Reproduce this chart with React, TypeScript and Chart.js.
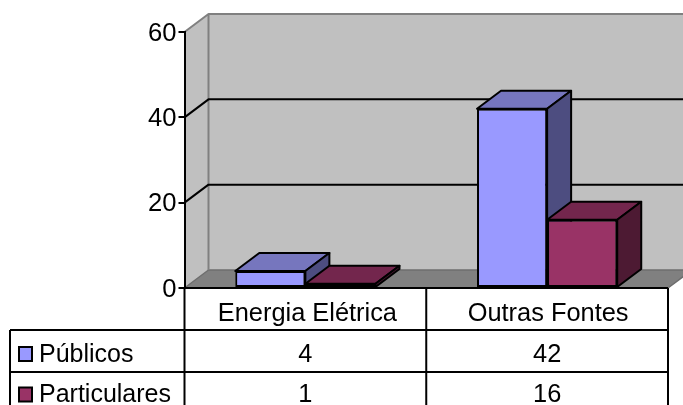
import React, { useEffect, useRef } from "react";
import { Chart, registerables } from "chart.js";

Chart.register(...registerables);

const categories = ["Energia Elétrica", "Outras Fontes"];
const seriesNames = ["Públicos", "Particulares"];
const publicos = [4, 42];
const particulares = [1, 16];
const axisMax = 60;
const axisStep = 20;

const FONT = '25.4px "Liberation Sans", Arial, sans-serif';
const LEGEND_FONT = '25px "Liberation Sans", Arial, sans-serif';
const DX = 24;
const DY = 18;
const faces = [
  { front: "#9999FF", top: "#7676BE", side: "#4D4D80" },
  { front: "#993366", top: "#73264D", side: "#4D1A33" },
];

function poly(ctx: CanvasRenderingContext2D, pts: number[][], fill: string | null, stroke: string | null, lw = 2) {
  ctx.beginPath();
  pts.forEach(([x, y], i) => (i ? ctx.lineTo(x, y) : ctx.moveTo(x, y)));
  ctx.closePath();
  if (fill) {
    ctx.fillStyle = fill;
    ctx.fill();
  }
  if (stroke) {
    ctx.strokeStyle = stroke;
    ctx.lineWidth = lw;
    ctx.lineJoin = "round";
    ctx.stroke();
  }
}

const wallsPlugin = {
  id: "walls",
  beforeDraw(chart: any) {
    const { ctx, chartArea: a, scales } = chart;
    const y = scales.y;
    ctx.save();
    poly(ctx, [[a.left, a.top], [a.left + DX, a.top - DY], [a.right + DX, a.top - DY], [a.right + DX, a.bottom - DY], [a.left + DX, a.bottom - DY], [a.left, a.bottom]], "#C0C0C0", null);
    poly(ctx, [[a.left, a.bottom], [a.left + DX, a.bottom - DY], [a.right + DX, a.bottom - DY], [a.right, a.bottom]], "#808080", "#6E6E6E", 1.5);
    ctx.strokeStyle = "#808080";
    ctx.lineWidth = 2;
    ctx.beginPath();
    ctx.moveTo(a.left, a.top);
    ctx.lineTo(a.left + DX, a.top - DY);
    ctx.lineTo(a.right + DX, a.top - DY);
    ctx.moveTo(a.left + DX, a.top - DY);
    ctx.lineTo(a.left + DX, a.bottom - DY);
    ctx.stroke();
    ctx.strokeStyle = "#000";
    for (let v = axisStep; v < axisMax; v += axisStep) {
      const py = y.getPixelForValue(v);
      ctx.beginPath();
      ctx.moveTo(a.left, py);
      ctx.lineTo(a.left + DX, py - DY);
      ctx.lineTo(a.right + DX, py - DY);
      ctx.stroke();
    }
    ctx.restore();
  },
};

const depthPlugin = {
  id: "depth",
  beforeDatasetsDraw(chart: any) {
    const { ctx } = chart;
    ctx.save();
    chart.data.labels.forEach((_: string, i: number) => {
      chart.data.datasets.forEach((_d: any, d: number) => {
        const b = chart.getDatasetMeta(d).data[i];
        const half = b.width / 2;
        const l = b.x - half;
        const r = b.x + half;
        const t = b.y;
        const bottom = b.base;
        poly(ctx, [[l, t], [l + DX, t - DY], [r + DX, t - DY], [r, t]], faces[d].top, "#000");
        poly(ctx, [[r, t], [r + DX, t - DY], [r + DX, bottom - DY], [r, bottom]], faces[d].side, "#000");
      });
    });
    ctx.restore();
  },
};

const tablePlugin = {
  id: "dataTable",
  afterDraw(chart: any) {
    const { ctx, chartArea: a, scales } = chart;
    const x = scales.x;
    const rows = [publicos, particulares];
    const rowH = 42;
    const tableLeft = 10;
    const divider = x.getPixelForValue(0) + (x.getPixelForValue(1) - x.getPixelForValue(0)) / 2;
    ctx.save();
    ctx.strokeStyle = "#000";
    ctx.lineWidth = 2;
    ctx.beginPath();
    ctx.moveTo(a.left, a.bottom);
    ctx.lineTo(a.right, a.bottom);
    ctx.moveTo(tableLeft, a.bottom + rowH);
    ctx.lineTo(a.right, a.bottom + rowH);
    ctx.moveTo(tableLeft, a.bottom + rowH * 2);
    ctx.lineTo(a.right, a.bottom + rowH * 2);
    ctx.moveTo(tableLeft, a.bottom + rowH);
    ctx.lineTo(tableLeft, a.bottom + rowH * 3);
    [a.left, divider, a.right].forEach((px) => {
      ctx.moveTo(px, a.bottom);
      ctx.lineTo(px, a.bottom + rowH * 3);
    });
    ctx.stroke();
    ctx.font = FONT;
    ctx.textBaseline = "alphabetic";
    ctx.fillStyle = "#000";
    ctx.textAlign = "center";
    categories.forEach((c, i) => ctx.fillText(c, x.getPixelForValue(i) + 2 - i, a.bottom + 33));
    rows.forEach((row, r) => {
      const base = a.bottom + 33 + 40.5 * (r + 1);
      ctx.font = FONT;
      row.forEach((v, i) => {
        ctx.fillStyle = "#000";
        ctx.textAlign = "center";
        ctx.fillText(String(v), x.getPixelForValue(i), base);
      });
      ctx.fillStyle = faces[r].front;
      ctx.fillRect(19, base - 14.5, 13, 14);
      ctx.strokeStyle = "#000";
      ctx.lineWidth = 2;
      ctx.strokeRect(19, base - 14.5, 13, 14);
      ctx.fillStyle = "#000";
      ctx.textAlign = "left";
      ctx.font = LEGEND_FONT;
      ctx.fillText(seriesNames[r], 39, base);
    });
    ctx.restore();
  },
};

export default function App() {
  const ref = useRef<HTMLCanvasElement>(null);
  useEffect(() => {
    document.body.style.margin = "0";
    const chart = new Chart(ref.current!, {
      type: "bar",
      data: {
        labels: categories,
        datasets: [publicos, particulares].map((data, i) => ({
          label: seriesNames[i],
          data,
          backgroundColor: faces[i].front,
          borderColor: "#000",
          borderWidth: 2,
          borderSkipped: false,
          categoryPercentage: 0.58,
          barPercentage: 1,
        })),
      },
      options: {
        responsive: false,
        animation: false,
        devicePixelRatio: 1,
        layout: { padding: { top: 32, right: 15, left: 0, bottom: 0 } },
        plugins: { legend: { display: false }, tooltip: { enabled: false } },
        scales: {
          x: {
            grid: { display: false },
            border: { display: false },
            ticks: { display: false },
            afterFit: (s: any) => {
              s.height = 117;
            },
          },
          y: {
            min: 0,
            max: axisMax,
            afterFit: (s: any) => {
              s.width = 184.5;
            },
            grid: { drawOnChartArea: false, color: "#000", lineWidth: 2, tickLength: 6 },
            border: { color: "#000", width: 2 },
            ticks: {
              stepSize: axisStep,
              color: "#000",
              padding: 2,
              labelOffset: 1.5,
              font: { family: '"Liberation Sans", Arial, sans-serif', size: 25.6 },
            },
          },
        },
      },
      plugins: [wallsPlugin, depthPlugin, tablePlugin],
    } as any);
    return () => chart.destroy();
  }, []);
  return <canvas ref={ref} width={683} height={405} style={{ display: "block", width: 683, height: 405 }} />;
}
